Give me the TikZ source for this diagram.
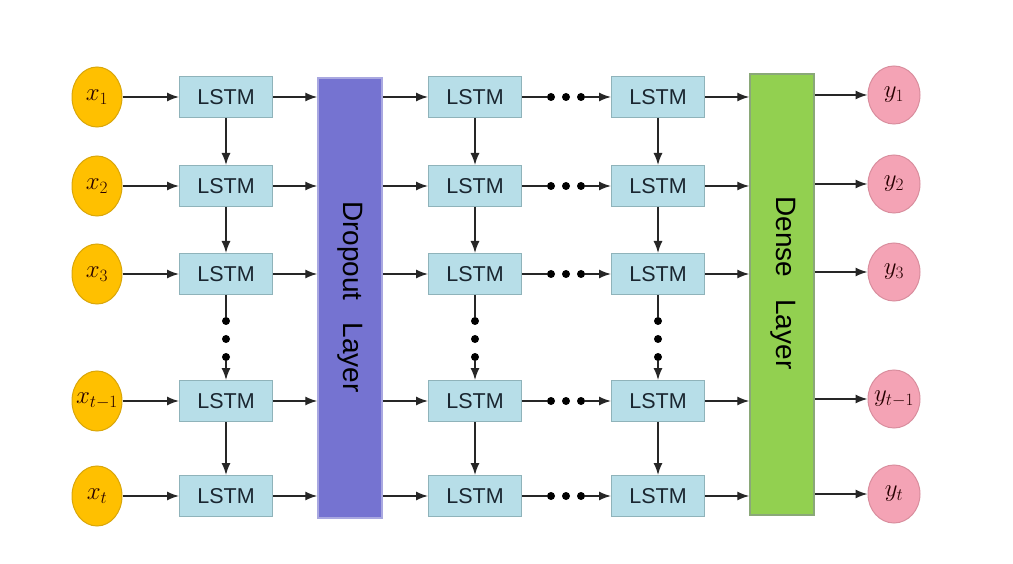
\documentclass[tikz,border=0pt]{standalone}
\usepackage{fontspec}
\setsansfont{Liberation Sans}
\usetikzlibrary{shapes}
\usetikzlibrary{arrows.meta}
\usetikzlibrary{positioning}

\definecolor{inyellow}{HTML}{FFC000}
\definecolor{inedge}{HTML}{D9A60A}
\definecolor{outpink}{HTML}{F4A3B5}
\definecolor{outedge}{HTML}{D98E9E}
\definecolor{lstmfill}{HTML}{B7DEE8}
\definecolor{lstmedge}{HTML}{8FB3BA}
\definecolor{dropfill}{HTML}{7573D1}
\definecolor{dropedge}{HTML}{A9A8E0}
\definecolor{densefill}{HTML}{92D050}
\definecolor{denseedge}{HTML}{8AA878}
\definecolor{txtdark}{HTML}{1A2630}

\begin{document}
\begin{tikzpicture}[x=1pt, y=-1pt,
  lstm/.style={draw=lstmedge, fill=lstmfill, line width=1pt, minimum width=93pt,
    minimum height=41pt, inner sep=0pt, text=txtdark, font=\sffamily\fontsize{21.5}{25}\selectfont},
  xin/.style={ellipse, draw=inedge, fill=inyellow, line width=1pt, minimum width=50pt,
    minimum height=60pt, inner sep=0pt},
  yout/.style={ellipse, draw=outedge, fill=outpink, line width=1pt, minimum width=52pt,
    minimum height=58pt, inner sep=0pt},
  mathlab/.style={text=black!85!red, font=\fontsize{26}{30}\selectfont},
  layerbox/.style={line width=1.5pt, minimum width=64pt, inner sep=0pt},
  layertxt/.style={rotate=-90, font=\sffamily\fontsize{28}{32}\selectfont},
  dotnode/.style={circle, fill=black, inner sep=0pt, minimum size=8pt},
  ln/.style={line width=1.4pt, draw=black!85},
  arr/.style={ln, -{Latex[length=12pt,width=9pt]}}]

\useasboundingbox (0,0) rectangle (1013,564);

%layers
\node[layerbox, draw=dropedge, fill=dropfill, minimum height=440pt] (drop) at (350,298) {};
\node[layertxt] (droptxt) at (350,297) {Dropout\hspace{22pt}Layer};
\node[layerbox, draw=denseedge, fill=densefill, minimum height=441pt] (dense) at (782,294.5) {};
\node[layertxt] (densetxt) at (783,283) {Dense\hspace{22pt}Layer};

%rows
\foreach \y/\s [count=\r] in {97/1, 186/2, 274/3, 401/{t-1}, 496/t} {
  \node[xin, label={[mathlab]center:$x_{\s}$}] (x\r) at (97,\y) {};
  \node[yout, label={[mathlab]center:$y_{\s}$}] (y\r) at (894,\y-2) {};
  \node[lstm] (l1\r) at (226,\y) {LSTM};
  \node[lstm] (l2\r) at (475,\y) {LSTM};
  \node[lstm] (l3\r) at (658,\y) {LSTM};
  \node[dotnode] (hd\r1) at (551,\y) {};
  \node[dotnode] (hd\r2) at (566,\y) {};
  \node[dotnode] (hd\r3) at (581,\y) {};
  \draw[arr] (x\r) -- (l1\r);
  \draw[arr] (l1\r) -- (drop.west |- l1\r);
  \draw[arr] (drop.east |- l2\r) -- (l2\r);
  \draw[ln] (l2\r) -- (hd\r1);
  \draw[arr] (hd\r3) -- (l3\r);
  \draw[arr] (l3\r) -- (dense.west |- l3\r);
  \draw[arr] (dense.east |- y\r) -- (y\r);
}

%columns
\foreach \c/\x in {1/226, 2/475, 3/658} {
  \node[dotnode] (vd\c1) at (\x,321) {};
  \node[dotnode] (vd\c2) at (\x,339) {};
  \node[dotnode] (vd\c3) at (\x,357) {};
  \draw[arr] (l\c1) -- (l\c2);
  \draw[arr] (l\c2) -- (l\c3);
  \draw[ln] (l\c3) -- (vd\c1);
  \draw[arr] (vd\c3) -- (l\c4);
  \draw[arr] (l\c4) -- (l\c5);
}

\end{tikzpicture}
\end{document}
